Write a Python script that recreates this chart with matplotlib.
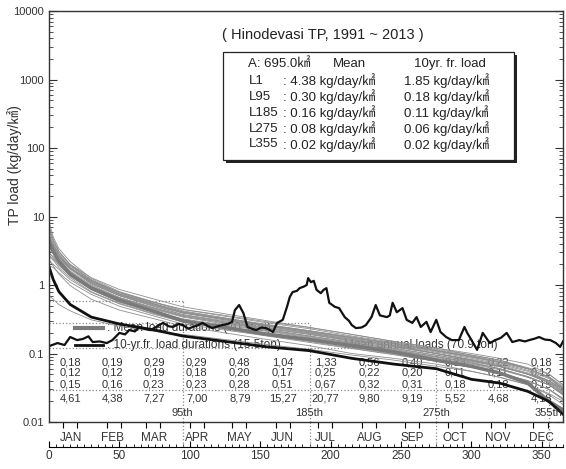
import matplotlib.pyplot as plt
import matplotlib.ticker as ticker
import matplotlib.transforms as mtransforms
from matplotlib.patches import Rectangle

plt.rcParams['font.family'] = ['Liberation Sans', 'Noto Sans CJK KR']

# Meses
meses = ['JAN', 'FEB', 'MAR', 'APR', 'MAY', 'JUN', 'JUL', 'AUG', 'SEP', 'OCT', 'NOV', 'DEC']
dias_mes = [31, 28, 31, 30, 31, 30, 31, 31, 30, 31, 30, 31]

dias_curva = [0, 3, 7, 15, 30, 50, 75, 95, 125, 155, 185, 215, 245, 275, 300, 320, 340, 355, 365]
curvas_anuais = {
    1991: [8.5, 5.0, 3.4, 2.2, 1.25, 0.80, 0.56, 0.42, 0.33, 0.26, 0.21, 0.17, 0.14, 0.11, 0.09, 0.075, 0.06, 0.045, 0.03],
    1992: [5.6, 4.0, 2.8, 1.8, 1.05, 0.70, 0.49, 0.37, 0.29, 0.23, 0.19, 0.155, 0.125, 0.10, 0.08, 0.065, 0.05, 0.04, 0.03],
    1993: [3.2, 2.9, 2.4, 1.75, 1.15, 0.78, 0.55, 0.44, 0.36, 0.29, 0.24, 0.19, 0.15, 0.12, 0.10, 0.085, 0.07, 0.05, 0.035],
    1994: [2.4, 1.9, 1.45, 0.98, 0.62, 0.43, 0.32, 0.25, 0.20, 0.16, 0.13, 0.10, 0.085, 0.07, 0.055, 0.045, 0.035, 0.025, 0.018],
    1995: [6.2, 4.3, 3.0, 2.0, 1.28, 0.86, 0.62, 0.48, 0.38, 0.30, 0.24, 0.19, 0.15, 0.12, 0.095, 0.08, 0.06, 0.045, 0.03],
    1996: [4.1, 3.3, 2.4, 1.6, 1.0, 0.66, 0.46, 0.35, 0.28, 0.22, 0.18, 0.145, 0.115, 0.09, 0.075, 0.06, 0.045, 0.035, 0.025],
    1997: [7.4, 4.6, 3.1, 1.95, 1.17, 0.74, 0.52, 0.40, 0.31, 0.25, 0.20, 0.16, 0.13, 0.105, 0.085, 0.07, 0.055, 0.04, 0.03],
    1998: [2.9, 2.6, 2.1, 1.45, 0.96, 0.65, 0.46, 0.36, 0.29, 0.235, 0.19, 0.15, 0.12, 0.095, 0.078, 0.065, 0.05, 0.04, 0.03],
    1999: [4.8, 3.6, 2.6, 1.75, 1.1, 0.72, 0.51, 0.39, 0.31, 0.25, 0.20, 0.16, 0.13, 0.10, 0.082, 0.068, 0.052, 0.04, 0.028],
    2000: [3.7, 2.9, 2.1, 1.35, 0.86, 0.56, 0.40, 0.31, 0.25, 0.20, 0.165, 0.135, 0.11, 0.085, 0.07, 0.058, 0.045, 0.035, 0.025],
    2001: [0.7, 0.62, 0.52, 0.42, 0.31, 0.25, 0.21, 0.19, 0.16, 0.135, 0.115, 0.095, 0.08, 0.065, 0.055, 0.045, 0.035, 0.026, 0.02],
    2002: [5.0, 3.9, 2.8, 1.9, 1.17, 0.78, 0.56, 0.44, 0.35, 0.28, 0.23, 0.18, 0.145, 0.115, 0.095, 0.08, 0.062, 0.05, 0.035],
    2003: [3.4, 3.1, 2.45, 1.7, 1.04, 0.70, 0.50, 0.39, 0.32, 0.26, 0.21, 0.17, 0.14, 0.11, 0.09, 0.075, 0.06, 0.045, 0.032],
    2004: [2.6, 2.3, 1.8, 1.28, 0.80, 0.54, 0.38, 0.30, 0.24, 0.19, 0.155, 0.125, 0.10, 0.08, 0.065, 0.052, 0.04, 0.03, 0.022],
    2005: [4.4, 3.4, 2.6, 1.75, 1.07, 0.70, 0.48, 0.37, 0.30, 0.24, 0.195, 0.155, 0.125, 0.10, 0.08, 0.066, 0.05, 0.038, 0.028],
    2006: [6.8, 4.5, 3.1, 2.0, 1.2, 0.77, 0.53, 0.40, 0.32, 0.255, 0.205, 0.165, 0.13, 0.10, 0.08, 0.065, 0.05, 0.037, 0.026],
    2007: [3.0, 2.5, 1.95, 1.35, 0.86, 0.58, 0.41, 0.32, 0.26, 0.21, 0.17, 0.14, 0.11, 0.088, 0.072, 0.06, 0.046, 0.035, 0.025],
    2008: [2.2, 2.0, 1.7, 1.2, 0.78, 0.53, 0.37, 0.29, 0.23, 0.185, 0.15, 0.12, 0.097, 0.077, 0.063, 0.052, 0.04, 0.03, 0.022],
    2009: [5.3, 3.8, 2.7, 1.8, 1.12, 0.73, 0.52, 0.40, 0.32, 0.26, 0.215, 0.175, 0.14, 0.112, 0.092, 0.077, 0.06, 0.046, 0.033],
    2010: [3.9, 3.2, 2.3, 1.55, 0.96, 0.64, 0.44, 0.34, 0.27, 0.215, 0.175, 0.14, 0.112, 0.09, 0.073, 0.06, 0.046, 0.035, 0.026],
    2011: [2.7, 2.4, 1.95, 1.4, 0.94, 0.64, 0.45, 0.35, 0.28, 0.225, 0.18, 0.145, 0.118, 0.094, 0.077, 0.064, 0.05, 0.038, 0.027],
    2012: [4.6, 3.7, 2.7, 1.8, 1.13, 0.74, 0.53, 0.41, 0.33, 0.265, 0.215, 0.17, 0.135, 0.108, 0.088, 0.073, 0.057, 0.043, 0.031],
    2013: [1.9, 1.8, 1.5, 1.1, 0.73, 0.49, 0.35, 0.27, 0.22, 0.18, 0.145, 0.118, 0.096, 0.077, 0.063, 0.052, 0.04, 0.03, 0.021],
}
media_duracao = [4.38, 3.1, 2.2, 1.45, 0.9, 0.6, 0.41, 0.30, 0.24, 0.19, 0.16, 0.13, 0.105, 0.08, 0.065, 0.052, 0.037, 0.02, 0.015]
freq_10anos = [1.85, 1.2, 0.8, 0.52, 0.34, 0.27, 0.22, 0.18, 0.15, 0.125, 0.11, 0.085, 0.07, 0.06, 0.042, 0.037, 0.028, 0.02, 0.013]

# Carga media diaria ao longo do ano
sazonal_dias = [0, 6, 11, 15, 20, 24, 28, 31, 36, 41, 45, 50, 54, 57, 61, 64, 68, 72, 77, 81,
                85, 88, 92, 95, 99, 102, 106, 109, 113, 116, 120, 123, 127, 130, 132, 135, 138, 141, 144, 147,
                151, 154, 157, 159, 162, 166, 169, 171, 173, 176, 178, 181, 183, 184, 186, 188, 190, 193, 195, 197,
                199, 203, 206, 210, 213, 215, 218, 222, 225, 229, 232, 235, 240, 242, 244, 247, 251, 254, 258, 261,
                264, 268, 271, 275, 278, 282, 286, 291, 295, 297, 300, 304, 308, 313, 317, 321, 325, 329, 334, 338,
                341, 345, 348, 352, 356, 360, 363, 365]
sazonal_carga = [0.128, 0.142, 0.133, 0.174, 0.157, 0.163, 0.178, 0.147, 0.150, 0.142, 0.157, 0.20, 0.19, 0.22, 0.21, 0.244, 0.23, 0.22, 0.25, 0.28,
                 0.25, 0.244, 0.27, 0.26, 0.23, 0.244, 0.26, 0.28, 0.25, 0.235, 0.25, 0.26, 0.27, 0.29, 0.43, 0.51, 0.39, 0.244, 0.23, 0.22,
                 0.24, 0.235, 0.22, 0.206, 0.28, 0.31, 0.48, 0.67, 0.79, 0.82, 0.90, 0.95, 1.0, 1.26, 1.1, 1.15, 0.85, 0.76, 0.85, 0.9,
                 0.55, 0.48, 0.46, 0.34, 0.30, 0.26, 0.235, 0.24, 0.26, 0.34, 0.51, 0.36, 0.34, 0.36, 0.55, 0.40, 0.46, 0.31, 0.28, 0.34,
                 0.244, 0.29, 0.206, 0.31, 0.206, 0.174, 0.157, 0.157, 0.244, 0.20, 0.157, 0.113, 0.20, 0.142, 0.157, 0.17, 0.20, 0.147, 0.157, 0.15,
                 0.157, 0.165, 0.174, 0.16, 0.157, 0.142, 0.125, 0.15]

# Tabela mensal
tabela_linhas = [
    [0.18, 0.19, 0.29, 0.29, 0.48, 1.04, 1.33, 0.56, 0.40, 0.33, 0.22, 0.18],
    [0.12, 0.12, 0.19, 0.18, 0.20, 0.17, 0.25, 0.22, 0.20, 0.11, 0.11, 0.12],
    [0.15, 0.16, 0.23, 0.23, 0.28, 0.51, 0.67, 0.32, 0.31, 0.18, 0.18, 0.15],
    [4.61, 4.38, 7.27, 7.00, 8.79, 15.27, 20.77, 9.80, 9.19, 5.52, 4.68, 4.18],
]

# Quadro de resumo
l_nomes = ['L1', 'L95', 'L185', 'L275', 'L355']
l_media = [4.38, 0.30, 0.16, 0.08, 0.02]
l_10anos = [1.85, 0.18, 0.11, 0.06, 0.02]

# Linhas guia
guia_dias = [95, 185, 275, 355]
guia_niveis = [0.58, 0.28, 0.12, 0.029]
guia_ate = [95, 185, 275, 365]

fig = plt.figure(figsize=(5.66, 4.69), dpi=100)
ax = fig.add_axes([0.0866, 0.1002, 0.9081, 0.8763])

for ano, valores in curvas_anuais.items():
    ax.plot(dias_curva, valores, color='#8f8f8f', linewidth=0.6, zorder=2)
ax.plot(dias_curva, media_duracao, color='#7a7a7a', linewidth=2.6, zorder=2)
ax.plot(dias_curva, freq_10anos, color='#111111', linewidth=2.0, zorder=2)
ax.plot(sazonal_dias, sazonal_carga, color='#111111', linewidth=1.6, zorder=2)

ax.set_yscale('log')
ax.set_ylim(0.01, 10000)
ax.set_xlim(0, 365)

# Linhas guia pontilhadas
trans = mtransforms.blended_transform_factory(ax.transData, ax.transAxes)
for dia, nivel, fim in zip(guia_dias, guia_niveis, guia_ate):
    ax.hlines(nivel, 0, fim, colors='#888888', linestyles=':', linewidth=0.9, zorder=1)
    ax.vlines(dia, 0.01, nivel, colors='#888888', linestyles=':', linewidth=0.9, zorder=1)
    ax.plot([dia, dia], [0, -0.061], transform=trans, color='#888888', linestyle=':',
            linewidth=0.9, clip_on=False)
    ax.text(dia, 0.0135, f'{dia}th', ha='center', va='center', fontsize=8, color='#333333')

# Tabela de valores mensais
inicio = [sum(dias_mes[:i]) for i in range(12)]
meio_mes = [inicio[i] + dias_mes[i] / 2 for i in range(12)]
linhas_y = [0.073, 0.052, 0.035, 0.0224]
for linha, y in zip(tabela_linhas, linhas_y):
    for x, v in zip(meio_mes, linha):
        ax.text(x, y, f'{v:.2f}'.replace('.', ','), ha='center', va='center',
                fontsize=8, color='#333333', zorder=1)

# Eixo y
ax.yaxis.set_major_formatter(ticker.FuncFormatter(lambda v, p: f'{v:g}'))
ax.yaxis.set_minor_formatter(ticker.NullFormatter())
ax.tick_params(axis='y', which='both', direction='in', left=True, right=True, labelsize=8, colors='#333333')
ax.tick_params(axis='y', which='major', length=6)
ax.tick_params(axis='y', which='minor', length=3)
ax.set_ylabel('TP load (kg/day/㎢)', fontsize=10, color='#333333')
ax.yaxis.set_label_coords(-0.053, 0.625)

# Eixo x com meses
marcas_mes = [s + d for s in inicio for d in (10, 20)]
ax.set_xticks(marcas_mes)
ax.set_xticklabels([])
ax.set_xticks(meio_mes, minor=True)
ax.set_xticklabels(meses, minor=True)
ax.tick_params(axis='x', which='major', direction='out', length=4, top=False)
ax.tick_params(axis='x', which='minor', length=0, pad=7, labelsize=8.5, labelcolor='#333333', top=False)

# Eixo de dias abaixo
sec = ax.secondary_xaxis(-0.061)
sec.set_xticks(range(0, 351, 50))
sec.xaxis.set_minor_locator(ticker.MultipleLocator(5))
sec.tick_params(which='major', direction='in', length=4, labelsize=8.5, pad=2, labelcolor='#333333')
sec.tick_params(which='minor', direction='in', length=2)

for s in ax.spines.values():
    s.set_color('#333333')
    s.set_linewidth(1.0)

# Legenda manual
ax.plot([0.051, 0.105], [0.229, 0.229], transform=ax.transAxes, color='#7a7a7a', linewidth=3, zorder=1)
ax.text(0.113, 0.229, ': Mean load durations (70.9ton)', transform=ax.transAxes,
        va='center', fontsize=8.5, color='#333333', zorder=1)
ax.plot([0.051, 0.105], [0.187, 0.187], transform=ax.transAxes, color='#111111', linewidth=2, zorder=1)
ax.text(0.113, 0.187, ': 10-yr.fr. load durations (15.5ton)', transform=ax.transAxes,
        va='center', fontsize=8.5, color='#333333', zorder=1)
ax.text(0.573, 0.187, 'Mean annual loads (70.9 ton)', transform=ax.transAxes,
        va='center', fontsize=8.5, color='#333333', zorder=1)

# Quadro de resumo
ax.text(0.337, 0.942, '( Hinodevasi TP, 1991 ~ 2013 )', transform=ax.transAxes,
        va='center', fontsize=10.5, color='#222222')
sombra = Rectangle((0.345, 0.630), 0.565, 0.263, transform=ax.transAxes,
                   facecolor='#222222', edgecolor='none', zorder=4)
quadro = Rectangle((0.339, 0.637), 0.565, 0.263, transform=ax.transAxes,
                   facecolor='white', edgecolor='#222222', linewidth=0.9, zorder=4)
ax.add_patch(sombra)
ax.add_patch(quadro)

ax.text(0.388, 0.871, 'A: 695.0㎢', transform=ax.transAxes, va='center', fontsize=9.5, color='#222222', zorder=5)
ax.text(0.552, 0.871, 'Mean', transform=ax.transAxes, va='center', fontsize=9.5, color='#222222', zorder=5)
ax.text(0.710, 0.871, '10yr. fr. load', transform=ax.transAxes, va='center', fontsize=9.5, color='#222222', zorder=5)
linhas_quadro = [0.830, 0.791, 0.752, 0.713, 0.676]
for nome, m, f, y in zip(l_nomes, l_media, l_10anos, linhas_quadro):
    ax.text(0.388, y, nome, transform=ax.transAxes, va='center', fontsize=9.5, color='#222222', zorder=5)
    ax.text(0.455, y, f': {m:.2f} kg/day/㎢', transform=ax.transAxes, va='center', fontsize=9.5,
            color='#222222', zorder=5)
    ax.text(0.690, y, f'{f:.2f} kg/day/㎢', transform=ax.transAxes, va='center', fontsize=9.5,
            color='#222222', zorder=5)

fig.savefig('out.png', dpi=100)
